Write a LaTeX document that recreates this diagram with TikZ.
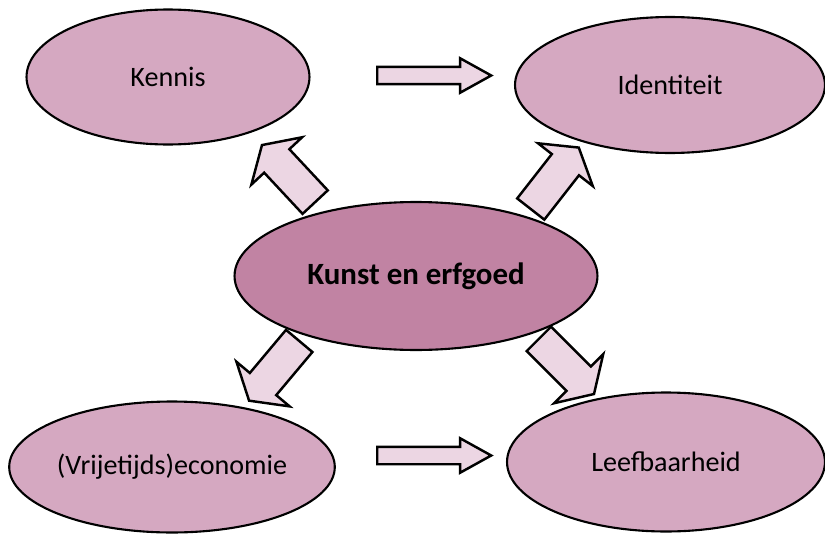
\documentclass[tikz,border=0pt]{standalone}
\usepackage{fontspec}
\setmainfont{Carlito}
\usepackage{tikz}
\usetikzlibrary{positioning, shapes.geometric, shapes.arrows}
\usepackage{xcolor}

\definecolor{topicfill}{HTML}{D5A8C1}
\definecolor{corefill}{HTML}{C183A3}
\definecolor{flowfill}{HTML}{ECD6E3}

\begin{document}
\begin{tikzpicture}[
                x=0.02cm, y=-0.02cm,
                topic/.style={ellipse, draw=black, line width=1.2pt, fill=topicfill, inner sep=0pt, align=center, font=\fontsize{16}{19}\selectfont},
                core/.style={topic, fill=corefill, font=\fontsize{17.6}{21}\selectfont\bfseries},
                flow/.style={single arrow, draw=black, line width=1.4pt, fill=flowfill, inner xsep=0pt, inner ysep=0.15cm, single arrow head extend=0.17cm, single arrow tip angle=58, minimum height=2.28cm, anchor=tail},
                push/.style={flow, inner ysep=0.32cm, single arrow head extend=0.35cm, single arrow tip angle=116, minimum height=1.56cm}
            ]
            \useasboundingbox (0,0) rectangle (825,534);

            % ellipses
            \node[core, minimum width=7.26cm, minimum height=2.96cm] (kunst) at (416,276) {Kunst en erfgoed};
            \node[topic, minimum width=5.66cm, minimum height=2.7cm] (kennis) at (168,77) {Kennis};
            \node[topic, minimum width=6.2cm, minimum height=2.72cm] (identiteit) at (670,85) {Identiteit};
            \node[topic, minimum width=6.46cm, minimum height=2.62cm] (economie) at (172,467) {(Vrijetijds)economie};
            \node[topic, minimum width=6.36cm, minimum height=2.78cm] (leefbaarheid) at (666,462) {Leefbaarheid};

            % block arrows
            \node[flow] (flowtop) at (376,75.5) {};
            \node[flow] (flowbottom) at (376,455.5) {};
            \node[push, rotate=133] (pushkennis) at (316,203) {};
            \node[push, rotate=52] (pushidentiteit) at (530,210) {};
            \node[push, rotate=230] (pusheconomie) at (300,340) {};
            \node[push, rotate=-45] (pushleefbaarheid) at (538,338) {};
        \end{tikzpicture}
\end{document}
